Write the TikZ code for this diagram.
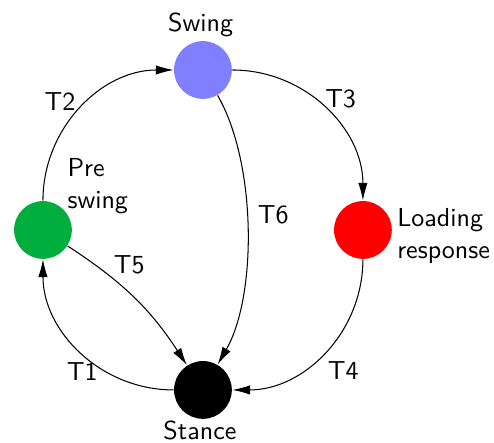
\documentclass[tikz,border=0pt]{standalone}
\usepackage{fontspec}
\usetikzlibrary{arrows.meta}
\definecolor{swingblue}{RGB}{127,127,255}
\definecolor{pregreen}{RGB}{0,174,62}
\definecolor{loadred}{RGB}{255,0,0}
\tikzset{state/.style = {circle, minimum size = 0.78cm, inner sep = 0},
         trans/.style = {-{Latex[length=6.8pt, width=3.6pt]}},
         tlabel/.style = {inner sep = 1pt}}

\begin{document}
\begin{tikzpicture}[font=\sffamily]
    \useasboundingbox (-2.74,-2.875) rectangle (3.93,3.105);
    % the four gait phases
    \node [state, fill=swingblue] (swing) at (0, 2.16) {};
    \node [state, fill=pregreen] (preswing) at (-2.16, 0) {};
    \node [state, fill=loadred] (loading) at (2.16, 0) {};
    \node [state, fill=black] (stance) at (0, -2.16) {};
    \node (swingtxt) at (-0.03, 2.77) {Swing};
    \node [align=left] (pretxt) at (-1.42, 0.59) {Pre\\swing};
    \node [align=left] (loadtxt) at (3.25, -0.08) {Loading\\response};
    \node (stancetxt) at (-0.04, -2.71) {Stance};
    % transitions
    \draw [trans] (stance) to [out=180, in=-90] node [tlabel, pos=0.5, below left, xshift=7.5pt, yshift=-3pt] {T1} (preswing);
    \draw [trans] (preswing) to [out=90, in=180] node [tlabel, pos=0.5, above left, xshift=-1pt, yshift=-2pt] {T2} (swing);
    \draw [trans] (swing) to [out=0, in=90] node [tlabel, pos=0.5, above right, xshift=-1pt, yshift=-1pt] {T3} (loading);
    \draw [trans] (loading) to [out=-90, in=0] node [tlabel, pos=0.5, below right, yshift=-2.5pt] {T4} (stance);
    \draw [trans] (preswing) to [bend left=12] node [tlabel, pos=0.35, above right, xshift=-2.5pt, yshift=2pt] {T5} (stance);
    \draw [trans] (swing) to [bend left=30, looseness=0.75] node [tlabel, pos=0.45, right, xshift=3pt] {T6} (stance);
\end{tikzpicture}
\end{document}
